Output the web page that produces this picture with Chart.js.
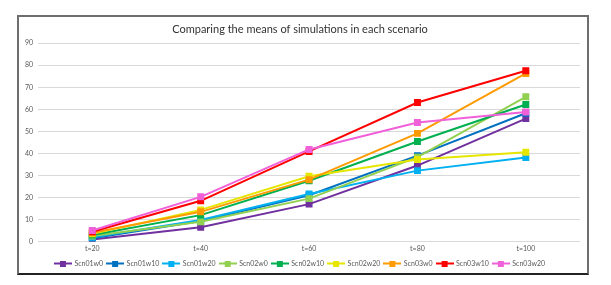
<!DOCTYPE html>
<html>
<head>
<meta charset="utf-8">
<script src="https://cdn.jsdelivr.net/npm/chart.js@4"></script>
<style>
  html, body { margin: 0; padding: 0; background: #fff; }
  #wrap { position: relative; width: 611px; height: 285px; }
  #frame { position: absolute; left: 17px; top: 15px; width: 568px; height: 256px;
           border: 2px solid #6e6e6e; border-bottom-color: #222; }
  canvas { position: absolute; left: 0; top: 0; }
</style>
</head>
<body>
<div id="wrap">
  <canvas id="GraficoMedias" width="611" height="285"></canvas>
  <div id="frame"></div>
</div>
<script>
var etapas = ["t=20", "t=40", "t=60", "t=80", "t=100"];
var nomes = ["Scn01w0", "Scn01w10", "Scn01w20", "Scn02w0", "Scn02w10", "Scn02w20", "Scn03w0", "Scn03w10", "Scn03w20"];
var cores = ["#7030a0", "#0070c0", "#00b0f0", "#92d050", "#00b050", "#e6e600", "#ff9a00", "#ff0000", "#f060d8"];

var scn01w0 = [1.0, 6.5, 17.0, 34.5, 55.8];
var scn01w10 = [1.5, 9.3, 21.0, 39.0, 58.2];
var scn01w20 = [2.0, 9.8, 21.6, 32.2, 38.1];
var scn02w0 = [2.5, 9.0, 19.5, 38.3, 65.7];
var scn02w10 = [3.0, 12.0, 27.6, 45.4, 62.2];
var scn02w20 = [3.5, 14.4, 29.6, 37.2, 40.5];
var scn03w0 = [4.0, 13.5, 28.1, 49.1, 76.3];
var scn03w10 = [4.5, 18.5, 40.9, 63.1, 77.5];
var scn03w20 = [5.0, 20.3, 41.8, 54.0, 58.8];

var series = [scn01w0, scn01w10, scn01w20, scn02w0, scn02w10, scn02w20, scn03w0, scn03w10, scn03w20];

// amostra da legenda: linha com quadrado no meio, como no Excel
function amostra(cor) {
    var c = document.createElement("canvas");
    c.width = 18; c.height = 6;
    var g = c.getContext("2d");
    g.strokeStyle = cor; g.lineWidth = 2;
    g.beginPath(); g.moveTo(0, 3); g.lineTo(18, 3); g.stroke();
    g.fillStyle = cor; g.fillRect(6, 0, 6, 6);
    return c;
}

function MontarGraficoMedias() {
    new Chart(document.getElementById("GraficoMedias"), {

        type: 'line',

        data: {
            labels: etapas,

            datasets: series.map(function (valores, i) {
                return {
                    label: nomes[i],
                    data: valores,
                    borderColor: cores[i],
                    backgroundColor: cores[i],
                    borderWidth: 2,
                    pointStyle: 'rect',
                    pointRadius: 3.5,
                    pointHoverRadius: 3.5,
                    tension: 0,
                    order: series.length - i
                };
            })
        },

        options: {
            responsive: false,
            animation: false,
            layout: {
                padding: { left: 20, right: 31, top: 19, bottom: 8 }
            },
            plugins: {
                title: {
                    display: true,
                    text: "Comparing the means of simulations in each scenario",
                    color: "#333",
                    font: { family: "Lato", size: 11, weight: 'normal' },
                    padding: { top: 4, bottom: 7 }
                },
                legend: {
                    position: 'bottom',
                    labels: {
                        usePointStyle: true,
                        pointStyleWidth: 16,
                        boxHeight: 6,
                        padding: 4,
                        color: "#595959",
                        font: { family: "Lato", size: 7 },
                        sort: function (a, b) { return a.datasetIndex - b.datasetIndex; },
                        generateLabels: function (chart) {
                            return chart.data.datasets.map(function (ds, i) {
                                return {
                                    text: ds.label,
                                    datasetIndex: i,
                                    pointStyle: amostra(cores[i]),
                                    fillStyle: cores[i],
                                    strokeStyle: cores[i],
                                    fontColor: "#595959",
                                    lineWidth: 0,
                                    hidden: false
                                };
                            });
                        }
                    }
                },
                tooltip: { enabled: false }
            },
            scales: {
                x: {
                    offset: true,
                    grid: { display: false, drawTicks: false },
                    border: { display: false },
                    ticks: { color: "#595959", font: { family: "Lato", size: 7 }, padding: 3 }
                },
                y: {
                    min: 0,
                    max: 90,
                    ticks: { stepSize: 10, color: "#595959", font: { family: "Lato", size: 7 }, padding: 5 },
                    grid: { color: "#d9d9d9", lineWidth: 1, drawTicks: false },
                    border: { display: false }
                }
            }
        }
    });
}

MontarGraficoMedias();
</script>
</body>
</html>
